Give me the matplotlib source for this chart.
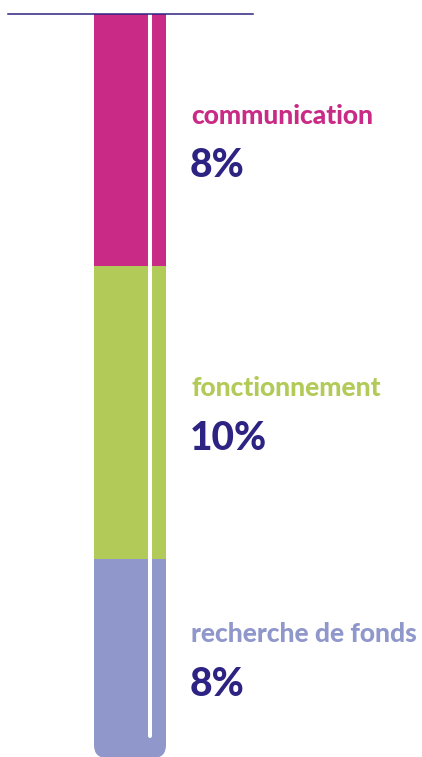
import matplotlib
matplotlib.use("Agg")
import matplotlib.pyplot as plt
from matplotlib.patches import FancyBboxPatch

#%% data
categories = ["communication", "fonctionnement", "recherche de fonds"]
shares = [8, 10, 8]                       # percent shown in labels
segment_len = [252, 293, 199]             # drawn length of each segment (px units)
colors = ["#c92a85", "#b2cb58", "#8f97cb"]
navy = "#2d2383"

#%% figure in pixel units
fig = plt.figure(figsize=(4.22, 7.57), dpi=100)
ax = fig.add_axes([0, 0, 1, 1])
ax.set_xlim(0, 422)
ax.set_ylim(757, 0)
ax.axis("off")

top = 14
x0, w = 94, 72
bottom = top
for i, (name, pct, ln, c) in enumerate(zip(categories, shares, segment_len, colors)):
    if i < len(categories) - 1:
        ax.bar(x0 + w / 2, ln, bottom=bottom, width=w, color=c, linewidth=0)
    else:
        # last segment with rounded bottom
        ax.bar(x0 + w / 2, ln - 20, bottom=bottom, width=w, color=c, linewidth=0)
        ax.add_patch(FancyBboxPatch((x0, bottom + ln - 40), w, 40,
                                    boxstyle="round,pad=0,rounding_size=13",
                                    fc=c, ec="none"))
    mid = bottom + ln / 2
    ax.text(191, mid - 16, name, color=c, fontsize=19, family="Lato",
            fontweight=900, va="baseline", ha="left")
    ax.text(190, mid + 37, f"{pct}%", color=navy, fontsize=28, family="Lato",
            fontweight=900, va="baseline", ha="left")
    bottom += ln

# white tube line
ax.plot([150, 150], [top, bottom - 22], color="white", lw=2.9,
        solid_capstyle="round", zorder=3)
# top line
ax.plot([8, 253], [top, top], color=navy, lw=1.1, zorder=4)

fig.savefig("out.png", dpi=100)
